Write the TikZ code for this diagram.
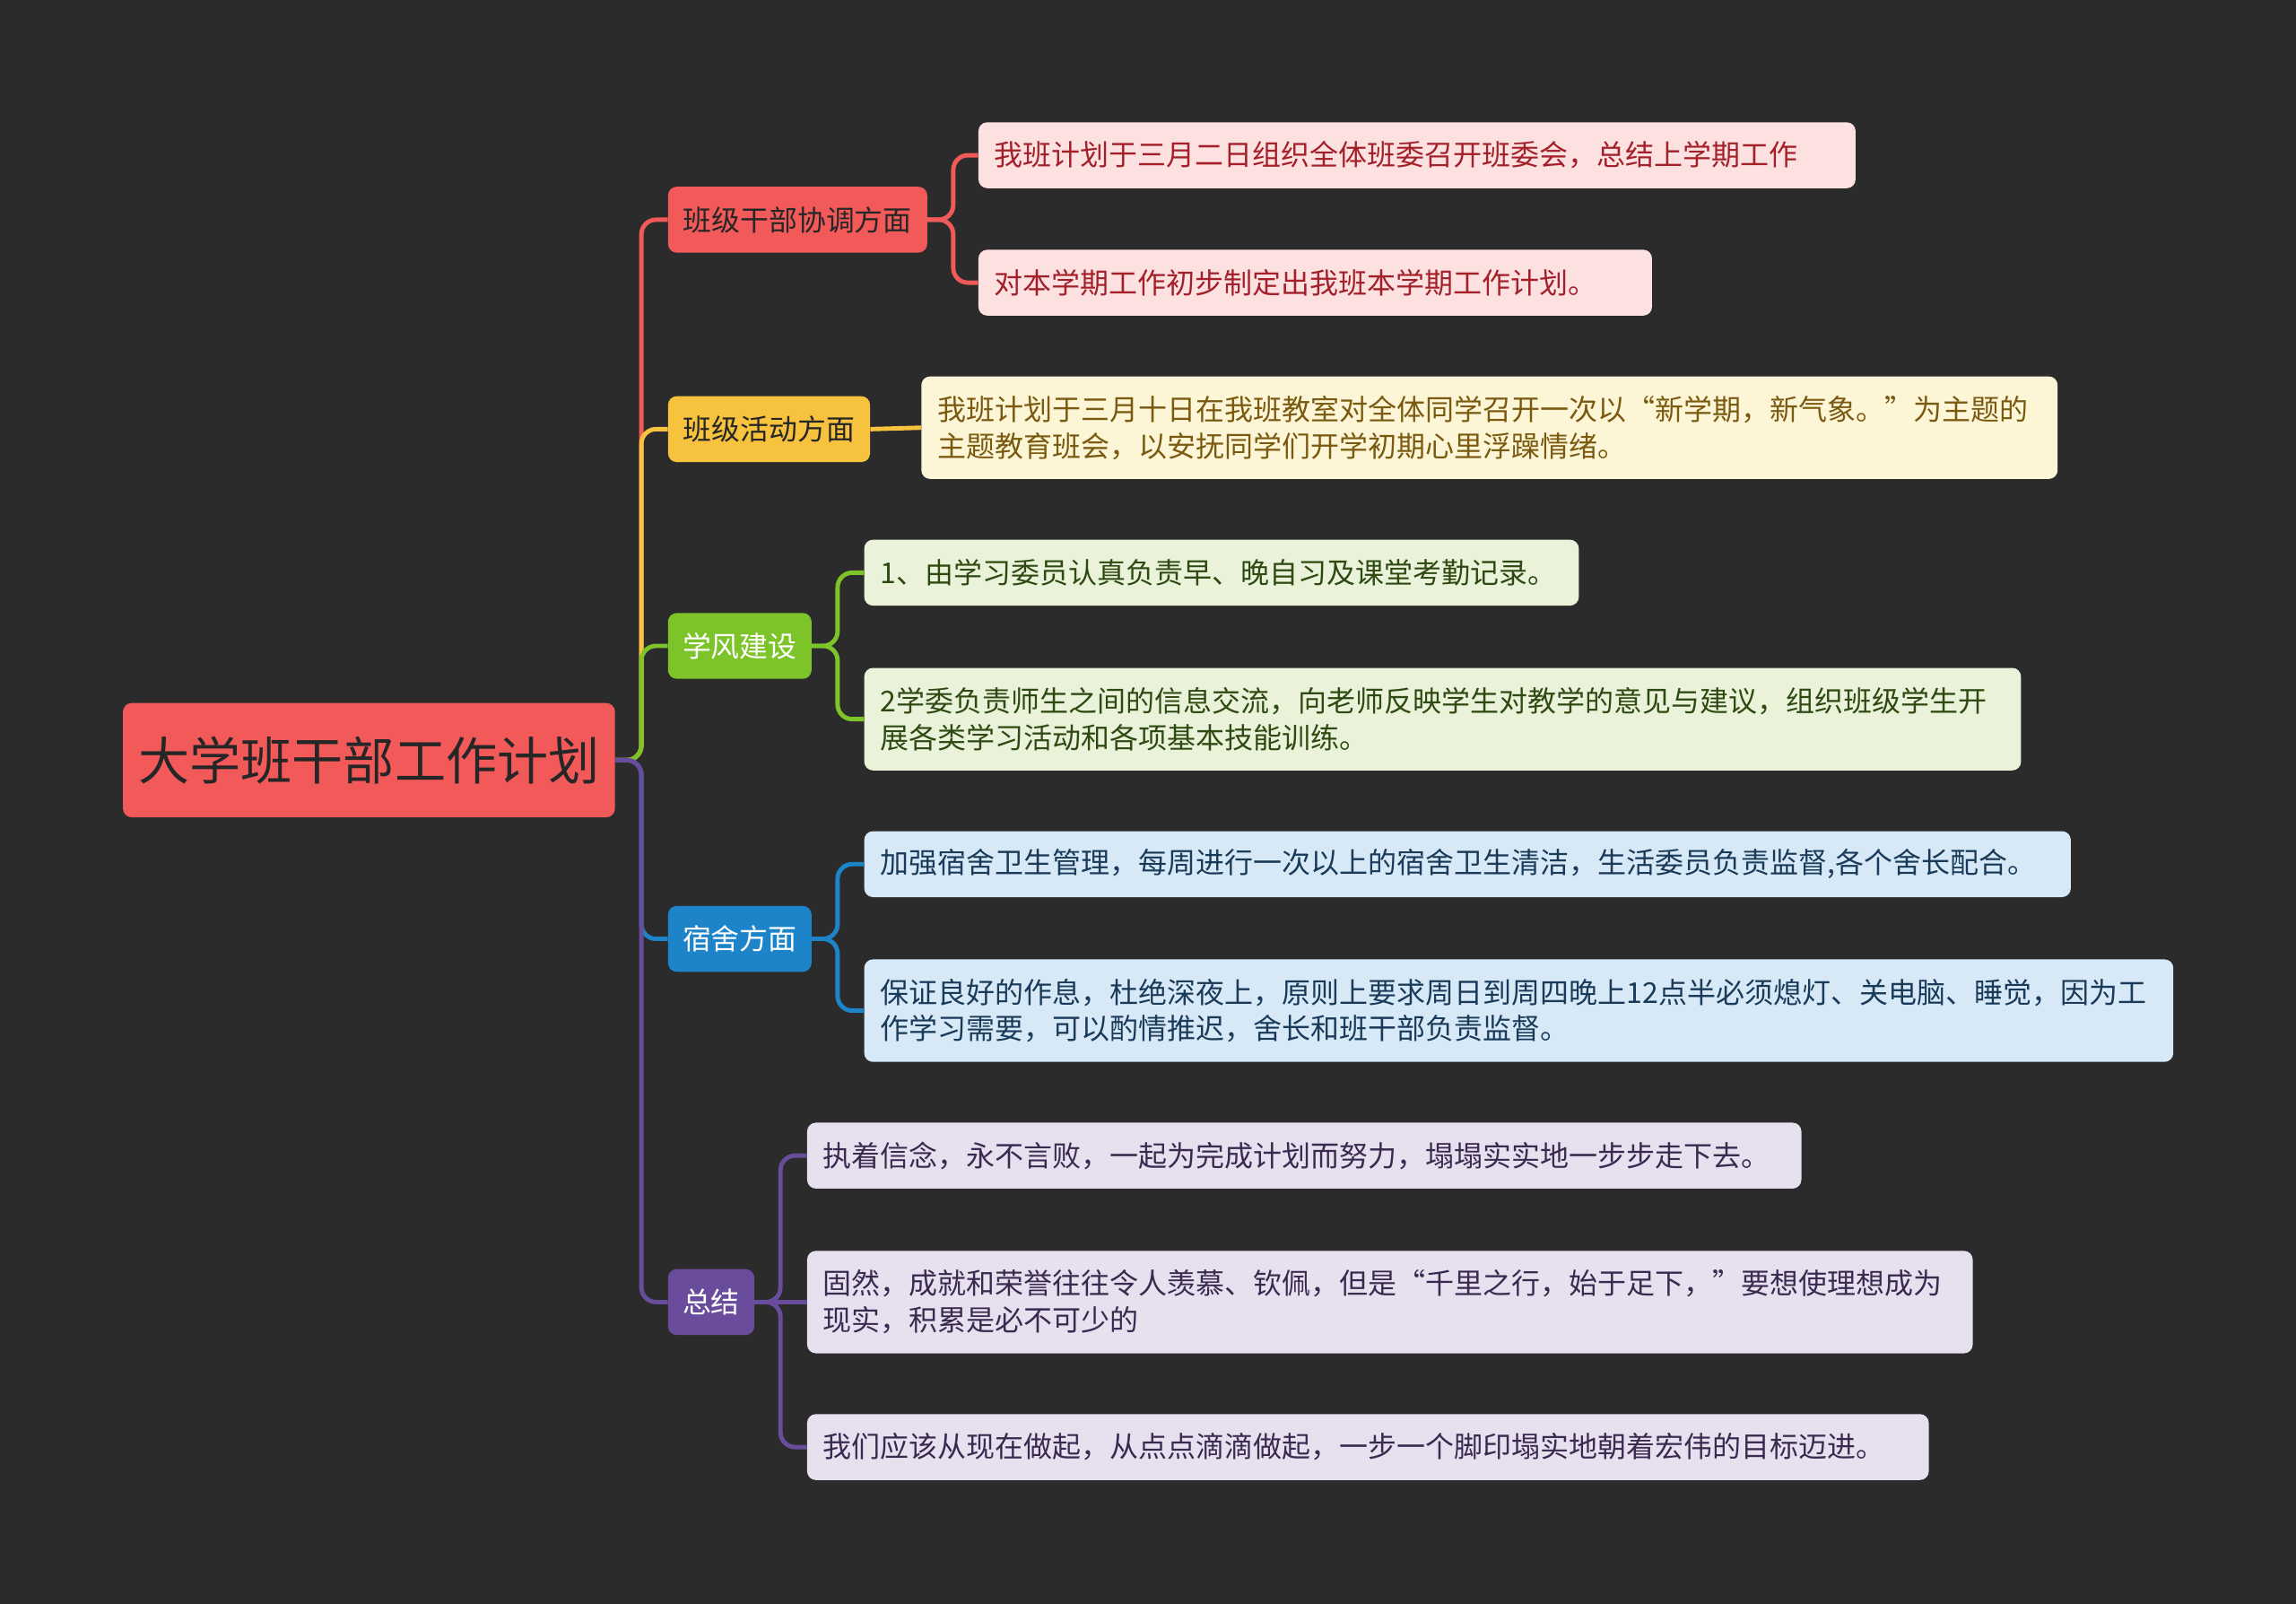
\documentclass[tikz,border=0pt]{standalone}
\usepackage{fontspec}
\setmainfont{Noto Sans CJK SC}
\definecolor{bg}{HTML}{2B2B2B}
\definecolor{cR}{HTML}{F25A5A}\definecolor{lR}{HTML}{FDE1E1}\definecolor{tR}{HTML}{A3202A}
\definecolor{cY}{HTML}{F7C23E}\definecolor{lY}{HTML}{FDF6D6}\definecolor{tY}{HTML}{7A5A10}
\definecolor{cG}{HTML}{7DC32A}\definecolor{lG}{HTML}{EAF3DA}\definecolor{tG}{HTML}{2E4A12}
\definecolor{cB}{HTML}{1E84CA}\definecolor{lB}{HTML}{D7E9F6}\definecolor{tB}{HTML}{1A3A5A}
\definecolor{cP}{HTML}{6A4C9C}\definecolor{lP}{HTML}{E7E1EF}\definecolor{tP}{HTML}{3A2A50}
\begin{document}
\begin{tikzpicture}[x=1pt,y=-1pt,
  br/.style={rounded corners=6pt,minimum height=45pt,inner sep=0pt,font=\fontsize{19.5}{22}\selectfont,anchor=west},
  lf/.style={rounded corners=6pt,inner sep=0pt,inner xsep=11pt,font=\fontsize{19.6}{25}\selectfont,anchor=west,align=left},
  ln/.style={line width=3pt,rounded corners=10pt}]
\useasboundingbox[fill=bg] (0,0) rectangle (1568,1095);
\node[fill=cR,rounded corners=6pt,minimum width=336pt,minimum height=78pt,font=\fontsize{35}{40}\selectfont,text=black!85] (root) at (252,519) {大学班干部工作计划};
\node[br,fill=cR,minimum width=177pt,text=black!85] (b1) at (456,150) {班级干部协调方面};
\node[br,fill=cY,minimum width=138pt,text=black!85] (b2) at (456,293) {班级活动方面};
\node[br,fill=cG,minimum width=98pt,text=white] (b3) at (456,441) {学风建设};
\node[br,fill=cB,minimum width=98pt,text=white] (b4) at (456,641) {宿舍方面};
\node[br,fill=cP,minimum width=59pt,text=white] (b5) at (456,889) {总结};
% leaves
\node[lf,fill=lR,text=tR,text width=577pt,minimum height=45pt] (l11) at (668,106) {我班计划于三月二日组织全体班委召开班委会，总结上学期工作};
\node[lf,fill=lR,text=tR,text width=438pt,minimum height=45pt] (l12) at (668,193) {对本学期工作初步制定出我班本学期工作计划。};
\node[lf,fill=lY,text=tY,text width=754pt,minimum height=70pt] (l21) at (629,292) {我班计划于三月十日在我班教室对全体同学召开一次以“新学期，新气象。”为主题的\\主题教育班会，以安抚同学们开学初期心里浮躁情绪。};
\node[lf,fill=lG,text=tG,text width=466pt,minimum height=45pt] (l31) at (590,391) {1、由学习委员认真负责早、晚自习及课堂考勤记录。};
\node[lf,fill=lG,text=tG,text width=768pt,minimum height=70pt] (l32) at (590,491) {2学委负责师生之间的信息交流，向老师反映学生对教学的意见与建议，组织班级学生开\\展各类学习活动和各项基本技能训练。};
\node[lf,fill=lB,text=tB,text width=802pt,minimum height=45pt] (l41) at (590,590) {加强宿舍卫生管理，每周进行一次以上的宿舍卫生清洁，生活委员负责监督,各个舍长配合。};
\node[lf,fill=lB,text=tB,text width=872pt,minimum height=70pt] (l42) at (590,690) {保证良好的作息，杜绝深夜上，原则上要求周日到周四晚上12点半必须熄灯、关电脑、睡觉，因为工\\作学习需要，可以酌情推迟，舍长和班干部负责监督。};
\node[lf,fill=lP,text=tP,text width=657pt,minimum height=45pt] (l51) at (551,789) {执着信念，永不言败，一起为完成计划而努力，塌塌实实地一步步走下去。};
\node[lf,fill=lP,text=tP,text width=774pt,minimum height=70pt] (l52) at (551,889) {固然，成就和荣誉往往令人羡慕、钦佩，但是“千里之行，始于足下，”要想使理想成为\\现实，积累是必不可少的};
\node[lf,fill=lP,text=tP,text width=744pt,minimum height=45pt] (l53) at (551,988) {我们应该从现在做起，从点点滴滴做起，一步一个脚印塌实地朝着宏伟的目标迈进。};
% trunk
\coordinate (t) at (438,519);
\draw[ln,cR] (root.east) -- (t) |- (b1.west);
\draw[ln,cY] (root.east) -- (t) |- (b2.west);
\draw[ln,cG] (root.east) -- (t) |- (b3.west);
\draw[ln,cB] (root.east) -- (t) |- (b4.west);
\draw[ln,cP] (root.east) -- (t) |- (b5.west);
% branch to leaves
\coordinate (k1) at (651,150);
\draw[ln,cR] (b1.east) -- (k1) |- (l11.west);
\draw[ln,cR] (b1.east) -- (k1) |- (l12.west);
\draw[ln,cY] (b2.east) -- (l21.west);
\coordinate (k3) at (572,441);
\draw[ln,cG] (b3.east) -- (k3) |- (l31.west);
\draw[ln,cG] (b3.east) -- (k3) |- (l32.west);
\coordinate (k4) at (572,641);
\draw[ln,cB] (b4.east) -- (k4) |- (l41.west);
\draw[ln,cB] (b4.east) -- (k4) |- (l42.west);
\coordinate (k5) at (533,889);
\draw[ln,cP] (b5.east) -- (k5) |- (l51.west);
\draw[ln,cP] (b5.east) -- (l52.west);
\draw[ln,cP] (b5.east) -- (k5) |- (l53.west);
\end{tikzpicture}
\end{document}
